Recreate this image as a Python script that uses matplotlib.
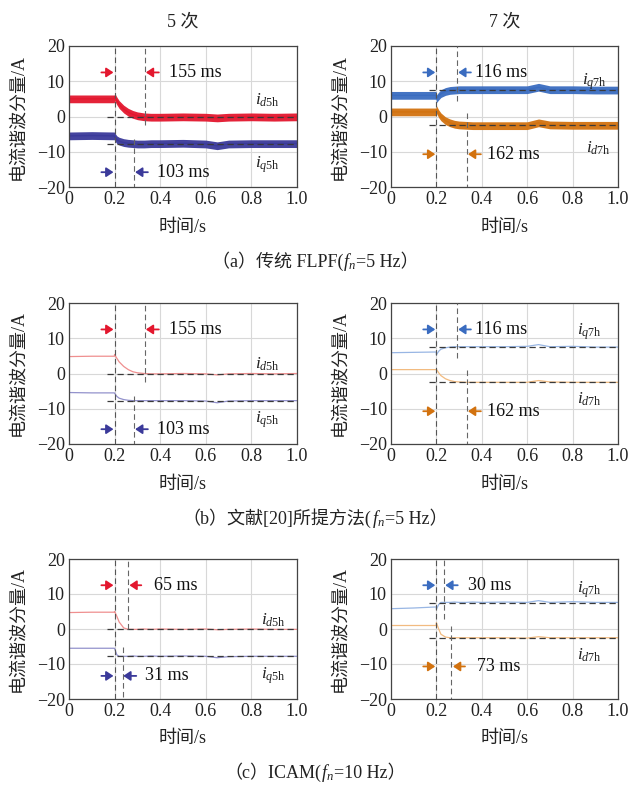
import matplotlib
matplotlib.use('Agg')
import matplotlib.pyplot as plt
from matplotlib.offsetbox import TextArea, HPacker, AnchoredOffsetbox

plt.rcParams['font.family'] = ['Liberation Serif', 'Noto Sans CJK SC']
plt.rcParams['mathtext.fontset'] = 'custom'
plt.rcParams['mathtext.rm'] = 'Liberation Serif'
plt.rcParams['mathtext.it'] = 'Liberation Serif:italic'
plt.rcParams['axes.unicode_minus'] = True

# ---- data ----
T = [0, 0.1, 0.199, 0.2, 0.21, 0.22, 0.24, 0.26, 0.28, 0.30, 0.33, 0.36, 0.4,
     0.5, 0.6, 0.65, 0.7, 0.8, 0.9, 1.0]

FLPF_ID5 = [5.0, 5.0, 5.0, 5.6, 4.4, 3.4, 2.1, 1.2, 0.6, 0.2, -0.1, -0.2, -0.2,
            -0.1, -0.2, -0.4, -0.2, -0.1, -0.2, -0.1]
FLPF_IQ5 = [-5.5, -5.4, -5.5, -5.7, -6.6, -7.0, -7.4, -7.6, -7.7, -7.8, -7.8, -7.7, -7.7,
            -7.6, -7.8, -8.3, -7.8, -7.7, -7.7, -7.7]
FLPF_IQ7 = [6.0, 6.0, 6.0, 5.0, 5.8, 6.5, 7.1, 7.4, 7.5, 7.6, 7.6, 7.6, 7.6,
            7.6, 7.6, 8.3, 7.6, 7.6, 7.5, 7.5]
FLPF_ID7 = [1.3, 1.3, 1.3, 2.0, 0.8, -0.1, -1.2, -1.8, -2.2, -2.4, -2.5, -2.6, -2.6,
            -2.6, -2.6, -1.8, -2.4, -2.5, -2.5, -2.5]

REF_ID5 = [4.8, 4.9, 4.9, 5.4, 4.3, 3.3, 2.0, 1.1, 0.5, 0.2, 0.0, -0.1, -0.1,
           0.0, -0.1, -0.4, -0.1, 0.0, -0.1, 0.0]
REF_IQ5 = [-5.4, -5.5, -5.5, -5.6, -6.5, -7.0, -7.4, -7.6, -7.7, -7.7, -7.7, -7.7, -7.7,
           -7.7, -7.8, -8.3, -7.8, -7.7, -7.7, -7.7]
REF_IQ7 = [5.9, 6.0, 6.1, 5.3, 6.3, 6.9, 7.3, 7.5, 7.6, 7.6, 7.6, 7.6, 7.6,
           7.6, 7.7, 8.2, 7.6, 7.7, 7.5, 7.5]
REF_ID7 = [1.1, 1.1, 1.1, 1.2, 0.2, -0.6, -1.5, -2.0, -2.3, -2.4, -2.5, -2.5, -2.5,
           -2.5, -2.5, -2.0, -2.4, -2.5, -2.5, -2.5]

ICAM_ID5 = [4.7, 4.8, 4.8, 5.0, 3.6, 2.0, 0.3, -0.1, -0.1, -0.1, 0.0, -0.1, 0.0,
            -0.1, 0.0, -0.2, -0.1, 0.0, -0.1, -0.1]
ICAM_IQ5 = [-5.5, -5.5, -5.5, -5.6, -7.4, -7.8, -7.8, -7.8, -7.7, -7.8, -7.8, -7.7, -7.8,
            -7.7, -7.8, -8.2, -7.9, -7.8, -7.8, -7.8]
ICAM_IQ7 = [5.8, 6.0, 6.3, 5.6, 7.0, 7.6, 7.6, 7.6, 7.7, 7.6, 7.6, 7.7, 7.6,
            7.7, 7.6, 8.1, 7.6, 7.8, 7.6, 7.6]
ICAM_ID7 = [1.0, 1.0, 1.0, 1.8, 0.0, -1.5, -2.3, -2.5, -2.5, -2.5, -2.5, -2.5, -2.5,
            -2.5, -2.6, -2.2, -2.5, -2.5, -2.5, -2.5]

STEADY_5 = [0.0, -7.7]      # id5h, iq5h steady state
STEADY_7 = [7.5, -2.5]      # iq7h, id7h steady state

FLPF_MS = [155, 103, 116, 162]
REF_MS = [155, 103, 116, 162]
ICAM_MS = [65, 31, 30, 73]

CAPTION_HEAD = ['（a）传统 FLPF(', '（b）文献[20]所提方法(', '（c）ICAM(']
CAPTION_FN = ['=5 Hz）', '=5 Hz）', '=10 Hz）']

# ---- style ----
RED, INDIGO, BLUE, ORANGE = '#e3172e', '#3b3a9a', '#3a6cc0', '#d2720f'
LIGHT = {RED: '#ef8f8f', INDIGO: '#9392cc', BLUE: '#98b6e4', ORANGE: '#f2bb80'}
DASH = (0, (5, 3))

fig = plt.figure(figsize=(6.3, 7.88), dpi=100)
W, H = 630, 788
rows_px = [(46, 187), (303, 444), (559, 699)]
cols_px = [(69, 297), (391, 618)]
cap_y = [262, 519, 773]


def make_ax(r, c):
    (y0, y1), (x0, x1) = rows_px[r], cols_px[c]
    ax = fig.add_axes([x0 / W, 1 - y1 / H, (x1 - x0) / W, (y1 - y0) / H])
    ax.set_xlim(0, 1.0)
    ax.set_ylim(-20, 20)
    ax.set_xticks([0, 0.2, 0.4, 0.6, 0.8, 1.0])
    ax.set_xticklabels(['0', '0.2', '0.4', '0.6', '0.8', '1.0'])
    ax.set_yticks([-20, -10, 0, 10, 20])
    ax.grid(True, color='#d8d8d8', lw=0.8)
    ax.tick_params(direction='in', length=0, labelsize=13, pad=3, colors='#222')
    for s in ax.spines.values():
        s.set_color('#444')
        s.set_linewidth(0.9)
    ax.text(-0.225, 0.5, '电流谐波分量/A', rotation=90, transform=ax.transAxes,
            ha='center', va='center', fontsize=13, color='#222')
    ax.text(0.5, -0.285, '时间/s', transform=ax.transAxes, ha='center', va='center',
            fontsize=13, color='#222')
    return ax


def curve(ax, y, col, thick):
    if thick:
        ax.fill_between(T, [v - 1.1 for v in y], [v + 1.1 for v in y], color=col,
                        lw=0, alpha=0.95, zorder=2)
        ax.plot(T, y, color=col, lw=1.0, zorder=2)
    else:
        ax.plot(T, y, color=LIGHT[col], lw=0.9, zorder=2)


def marks(ax, yv, x_start, vlines):
    for v in yv:
        ax.plot([x_start, 1.0], [v, v], color='#3a3a3a', lw=0.9, ls=DASH, zorder=4)
    ax.plot([0.2, 0.2], [-20, 20], color='#555', lw=0.8, ls=DASH, zorder=4)
    for x, ya, yb in vlines:
        ax.plot([x, x], [ya, yb], color='#666', lw=0.8, ls=DASH, zorder=4)


def arrows(ax, y, col, x_right_start, x_right_end, label, x_text):
    kw = dict(arrowstyle='-|>,head_length=0.42,head_width=0.28', color=col, lw=1.3,
              mutation_scale=10, shrinkA=0, shrinkB=0)
    ax.annotate('', xy=(0.195, y), xytext=(0.142, y), arrowprops=kw, zorder=5)
    ax.annotate('', xy=(x_right_end, y), xytext=(x_right_start + 0.006, y),
                arrowprops=kw, zorder=5)
    ax.text(x_text, y, f'{label} ms', fontsize=13, va='center', ha='left', color='#111')


def sublabel(ax, x, y, tex):
    ax.text(x, y, tex, fontsize=12.5, ha='left', va='center', color='#222')


def caption(r):
    tp = dict(fontsize=13, color='#222')
    parts = [TextArea(CAPTION_HEAD[r], textprops=tp),
             TextArea(r'$f_n$', textprops=tp),
             TextArea(CAPTION_FN[r], textprops=tp)]
    box = HPacker(children=parts, align='baseline', pad=0, sep=0)
    ab = AnchoredOffsetbox(loc='center', child=box, pad=0, frameon=False,
                           bbox_to_anchor=(0.5, 1 - cap_y[r] / H),
                           bbox_transform=fig.transFigure, borderpad=0)
    fig.add_artist(ab)


data = [(FLPF_ID5, FLPF_IQ5, FLPF_IQ7, FLPF_ID7, FLPF_MS),
        (REF_ID5, REF_IQ5, REF_IQ7, REF_ID7, REF_MS),
        (ICAM_ID5, ICAM_IQ5, ICAM_IQ7, ICAM_ID7, ICAM_MS)]

for r, (id5, iq5, iq7, id7, ms) in enumerate(data):
    thick = (r == 0)
    axl = make_ax(r, 0)
    axr = make_ax(r, 1)

    curve(axl, id5, RED, thick)
    curve(axl, iq5, INDIGO, thick)
    curve(axr, iq7, BLUE, thick)
    curve(axr, id7, ORANGE, thick)

    if r < 2:
        marks(axl, STEADY_5, 0.165, [(0.333, -2.5, 20), (0.286, -6.5, -20)])
        marks(axr, STEADY_7, 0.166, [(0.29, 4.5, 20), (0.335, 1.0, -20)])
        arrows(axl, 12.5, RED, 0.388, 0.337, ms[0], 0.44)
        arrows(axl, -15.8, INDIGO, 0.34, 0.29, ms[1], 0.387)
        arrows(axr, 12.5, BLUE, 0.346, 0.296, ms[2], 0.372)
        arrows(axr, -10.7, ORANGE, 0.39, 0.339, ms[3], 0.423)
    else:
        marks(axl, STEADY_5, 0.165, [(0.26, 0.0, 20), (0.235, -5.0, -20)])
        marks(axr, STEADY_7, 0.166, [(0.235, 3.0, 20), (0.265, 1.0, -20)])
        arrows(axl, 12.5, RED, 0.311, 0.265, ms[0], 0.373)
        arrows(axl, -13.4, INDIGO, 0.289, 0.238, ms[1], 0.333)
        arrows(axr, 12.5, BLUE, 0.288, 0.239, ms[2], 0.339)
        arrows(axr, -10.7, ORANGE, 0.32, 0.273, ms[3], 0.379)

    if r == 0:
        sublabel(axl, 0.816, 4.6, r'$i_{d\mathrm{5h}}$')
        sublabel(axl, 0.816, -13.8, r'$i_{q\mathrm{5h}}$')
        sublabel(axr, 0.84, 9.8, r'$i_{q\mathrm{7h}}$')
        sublabel(axr, 0.86, -9.1, r'$i_{d\mathrm{7h}}$')
    elif r == 1:
        sublabel(axl, 0.816, 2.6, r'$i_{d\mathrm{5h}}$')
        sublabel(axl, 0.816, -13.2, r'$i_{q\mathrm{5h}}$')
        sublabel(axr, 0.82, 11.8, r'$i_{q\mathrm{7h}}$')
        sublabel(axr, 0.82, -7.2, r'$i_{d\mathrm{7h}}$')
    else:
        sublabel(axl, 0.84, 2.6, r'$i_{d\mathrm{5h}}$')
        sublabel(axl, 0.84, -13.4, r'$i_{q\mathrm{5h}}$')
        sublabel(axr, 0.82, 11.1, r'$i_{q\mathrm{7h}}$')
        sublabel(axr, 0.82, -7.4, r'$i_{d\mathrm{7h}}$')

    if r == 0:
        axl.set_title('5 次', fontsize=13, pad=14, color='#222')
        axr.set_title('7 次', fontsize=13, pad=14, color='#222')

    caption(r)

fig.savefig('out.png', dpi=100, facecolor='white')
